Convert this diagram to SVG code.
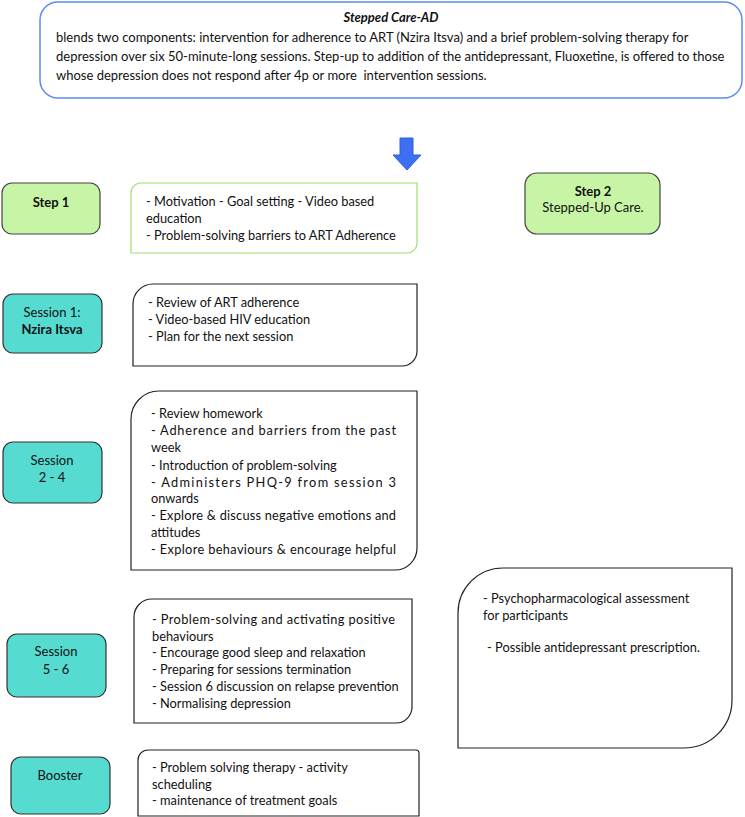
<svg xmlns="http://www.w3.org/2000/svg" width="745" height="817" viewBox="0 0 745 817">
<style>
text{font-family:Lato,"Liberation Sans",sans-serif;fill:#111}
.t{font-size:12.8px}
.top{font-size:13px}
.lbl{font-size:13px;text-anchor:middle}
.b{font-weight:bold}
.green{fill:#c8f5a5;stroke:#444;stroke-width:1.2}
.teal{fill:#56dbd1;stroke:#333;stroke-width:1.2}
.box{fill:#fff;stroke:#222;stroke-width:1.2}
</style>
<rect width="745" height="817" fill="#fff"/>
<g id="intro">
<rect x="40" y="2" width="702" height="96" rx="18" fill="#fff" stroke="#5b8cf0" stroke-width="1.5"/>
<text class="top b" x="391" y="22" text-anchor="middle" font-style="italic">Stepped Care-AD</text>
<text class="top" x="56" y="42">blends two components: intervention for adherence to ART (Nzira Itsva) and a brief problem-solving therapy for</text>
<text class="top" x="56" y="61">depression over six 50-minute-long sessions. Step-up to addition of the antidepressant, Fluoxetine, is offered to those</text>
<text class="top" x="56" y="80" xml:space="preserve">whose depression does not respond after 4p or more  intervention sessions.</text>
</g>
<g id="connectors">
<polygon points="400,138 413,138 413,155 421,155 407,170 393,155 400,155" fill="#3d6ff2" stroke="#2f5fe0" stroke-width="1"/>
</g>
<g id="step1">
<rect class="green" x="2" y="183" width="98" height="51" rx="10"/>
<text class="lbl b" x="51" y="207">Step 1</text>
</g>
<g id="step1-content">
<path d="M131,193 A10,10 0 0 1 141,183 H417 V243 A10,10 0 0 1 407,253 H131 Z" fill="#fff" stroke="#a3e06c" stroke-width="1.2"/>
<text class="t" x="146" y="206">- Motivation - Goal setting - Video based</text>
<text class="t" x="146" y="223">education</text>
<text class="t" x="146" y="240">- Problem-solving barriers to ART Adherence</text>
</g>
<g id="step2">
<rect class="green" x="525" y="173" width="135" height="61" rx="12"/>
<text class="lbl b" x="593" y="196">Step 2</text>
<text class="lbl" x="593" y="212">Stepped-Up Care.</text>
</g>
<g id="session1">
<rect class="teal" x="3" y="294" width="99" height="59" rx="10"/>
<text class="lbl" x="52" y="317">Session 1:</text>
<text class="lbl b" x="52" y="334">Nzira Itsva</text>
</g>
<g id="session1-content">
<path class="box" d="M133,304 A20,20 0 0 1 153,284 H417 V351 A15,15 0 0 1 402,366 H133 Z"/>
<text class="t" x="148" y="307">- Review of ART adherence</text>
<text class="t" x="148" y="324">- Video-based HIV education</text>
<text class="t" x="148" y="341">- Plan for the next session</text>
</g>
<g id="session2-4">
<rect class="teal" x="3" y="442" width="99" height="61" rx="10"/>
<text class="lbl" x="52" y="465">Session</text>
<text class="lbl" x="52" y="482">2 - 4</text>
</g>
<g id="session2-4-content">
<path class="box" d="M131,419 A28,28 0 0 1 159,391 H417 V548 A22,22 0 0 1 395,570 H131 Z"/>
<text class="t" x="151" y="418">- Review homework</text>
<text class="t" x="151" y="435" textLength="245" lengthAdjust="spacing">- Adherence and barriers from the past</text>
<text class="t" x="151" y="452">week</text>
<text class="t" x="151" y="470">- Introduction of problem-solving</text>
<text class="t" x="151" y="487" textLength="245" lengthAdjust="spacing">- Administers PHQ-9 from session 3</text>
<text class="t" x="151" y="503">onwards</text>
<text class="t" x="151" y="520" textLength="245" lengthAdjust="spacing">- Explore &amp; discuss negative emotions and</text>
<text class="t" x="151" y="537">attitudes</text>
<text class="t" x="151" y="554" textLength="245" lengthAdjust="spacing">- Explore behaviours &amp; encourage helpful</text>
</g>
<g id="session5-6">
<rect class="teal" x="7" y="634" width="99" height="63" rx="10"/>
<text class="lbl" x="56" y="656">Session</text>
<text class="lbl" x="56" y="674">5 - 6</text>
</g>
<g id="session5-6-content">
<path class="box" d="M134,617 A18,18 0 0 1 152,599 H412 V707 A16,16 0 0 1 396,723 H134 Z"/>
<text class="t" x="152" y="624" textLength="243" lengthAdjust="spacing">- Problem-solving and activating positive</text>
<text class="t" x="152" y="641">behaviours</text>
<text class="t" x="152" y="657">- Encourage good sleep and relaxation</text>
<text class="t" x="152" y="674">- Preparing for sessions termination</text>
<text class="t" x="152" y="691">- Session 6 discussion on relapse prevention</text>
<text class="t" x="152" y="708">- Normalising depression</text>
</g>
<g id="booster">
<rect class="teal" x="11" y="757" width="99" height="57" rx="10"/>
<text class="lbl" x="60" y="780">Booster</text>
</g>
<g id="booster-content">
<path class="box" d="M138,760 A10,10 0 0 1 148,750 H416 A3,3 0 0 1 419,753 V816 H138 Z"/>
<text class="t" x="152" y="772">- Problem solving therapy - activity</text>
<text class="t" x="152" y="789">scheduling</text>
<text class="t" x="152" y="805">- maintenance of treatment goals</text>
</g>
<g id="step2-content">
<path class="box" d="M458,613 A45,45 0 0 1 503,568 H732 V700 A48,48 0 0 1 684,748 H458 Z"/>
<text class="t" x="483" y="603">- Psychopharmacological assessment</text>
<text class="t" x="483" y="620">for participants</text>
<text class="t" x="487" y="652">- Possible antidepressant prescription.</text>
</g>
</svg>
